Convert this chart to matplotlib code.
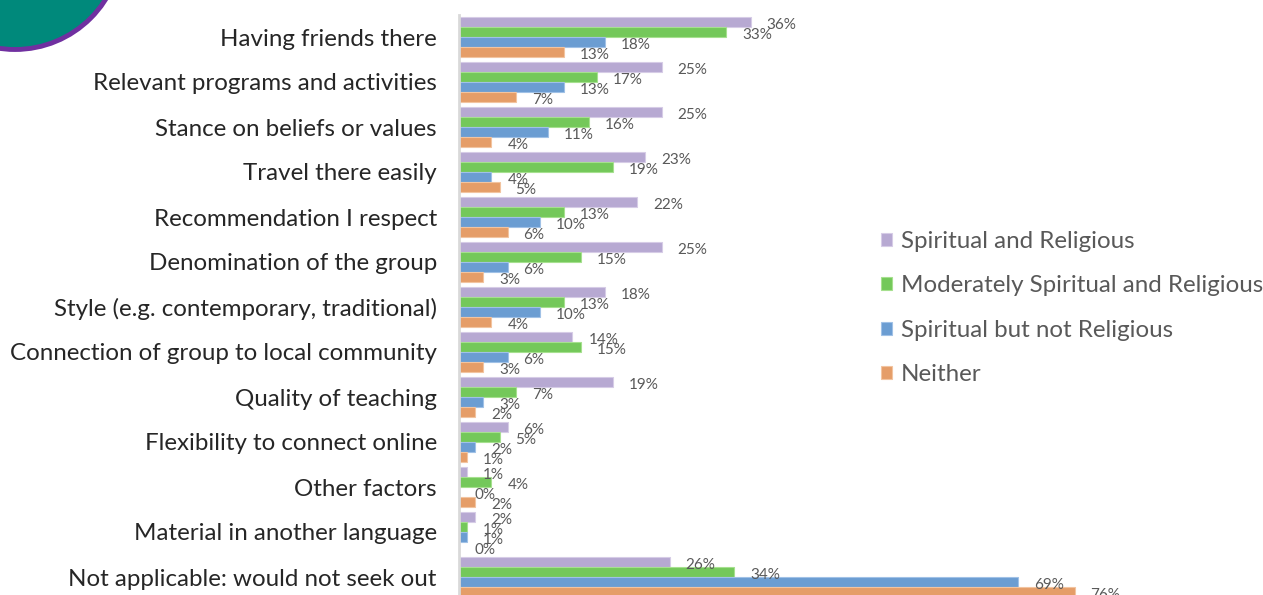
import numpy as np
import matplotlib.pyplot as plt
from matplotlib.patches import Circle

plt.rcParams['font.family'] = ['Lato', 'DejaVu Sans']

categories = [
    "Having friends there",
    "Relevant programs and activities",
    "Stance on beliefs or values",
    "Travel there easily",
    "Recommendation I respect",
    "Denomination of the group",
    "Style (e.g. contemporary, traditional)",
    "Connection of group to local community",
    "Quality of teaching",
    "Flexibility to connect online",
    "Other factors",
    "Material in another language",
    "Not applicable: would not seek out",
]

series_names = [
    "Spiritual and Religious",
    "Moderately Spiritual and Religious",
    "Spiritual but not Religious",
    "Neither",
]

spiritual_religious = [36, 25, 25, 23, 22, 25, 18, 14, 19, 6, 1, 2, 26]
moderately = [33, 17, 16, 19, 13, 15, 13, 15, 7, 5, 4, 1, 34]
spiritual_not_religious = [18, 13, 11, 4, 10, 6, 10, 6, 3, 2, 0, 1, 69]
neither = [13, 7, 4, 5, 6, 3, 4, 3, 2, 1, 2, 0, 76]

colors = ["#b7a9d2", "#74c85a", "#6b9dd2", "#e59d68"]
edges = ["#d6cce6", "#a6e08f", "#a0c1e6", "#f2c4a0"]

W, H = 1263, 595
fig = plt.figure(figsize=(W / 100, H / 100), dpi=100)

# axes placed in pixel terms: 0% at x=459, ~8.1 px per percent, rows 45 px apart
left, top = 459, 14.5
xmax = 80
ax_w = xmax * 8.1
ax_h = 13 * 45
ax = fig.add_axes([left / W, 1 - (top + ax_h) / H, ax_w / W, ax_h / H])

all_series = [spiritual_religious, moderately, spiritual_not_religious, neither]
y = np.arange(len(categories))
bar_h = 10 / 45
for i, vals in enumerate(all_series):
    pos = y - 1.5 * bar_h + i * bar_h
    ax.barh(pos, vals, height=bar_h, color=colors[i], edgecolor=edges[i],
            linewidth=0.8, label=series_names[i])
    for p, v in zip(pos, vals):
        ax.annotate(f"{v}%", (v, p), xytext=(11.5, -2), textcoords="offset points",
                    ha="left", va="center", fontsize=11, color="#595959",
                    annotation_clip=False)

ax.set_ylim(len(categories) - 0.5, -0.5)
ax.set_xlim(0, xmax)
ax.set_yticks(y)
ax.set_yticklabels(categories, fontsize=17.4, color="#262626")
ax.tick_params(axis="y", length=0, pad=16)
ax.set_xticks([])
for s in ["top", "right", "bottom"]:
    ax.spines[s].set_visible(False)
ax.spines["left"].set_color("#d9d9d9")
ax.spines["left"].set_linewidth(2)
ax.patch.set_alpha(0)

handles, labels = ax.get_legend_handles_labels()
fig.legend(handles, labels, loc="upper left",
           bbox_to_anchor=(881 / W, 1 - 231 / H), frameon=False,
           fontsize=17.4, labelcolor="#595959", handlelength=0.46,
           handleheight=0.46, handletextpad=0.35, labelspacing=0.97,
           borderpad=0, borderaxespad=0)

# decorative circle in the top-left corner
deco = fig.add_axes([0, 0, 1, 1], zorder=-1)
deco.set_xlim(0, W)
deco.set_ylim(H, 0)
deco.axis("off")
deco.add_patch(Circle((15, -57.5), 107, facecolor="#00897b",
                      edgecolor="#7030a0", linewidth=3.5))

fig.savefig("out.png", dpi=100)
